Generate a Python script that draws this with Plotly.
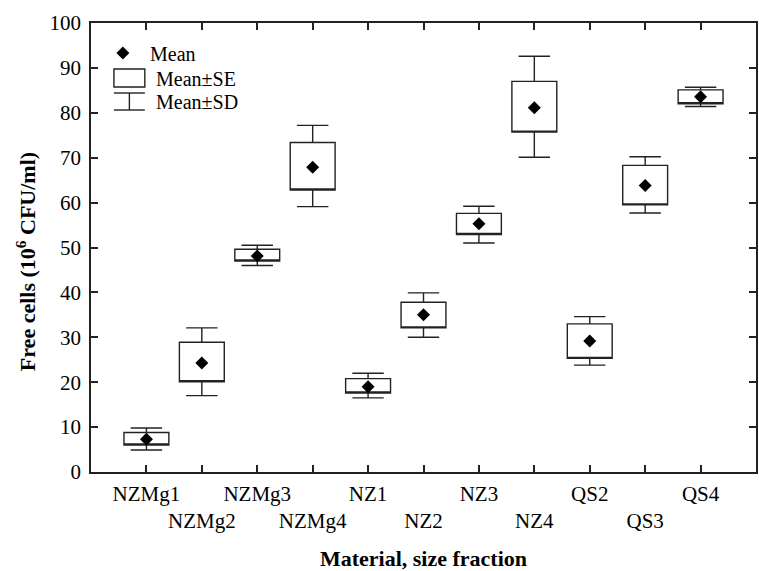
import plotly.graph_objects as go

categories = ["NZMg1", "NZMg2", "NZMg3", "NZMg4", "NZ1", "NZ2", "NZ3", "NZ4", "QS2", "QS3", "QS4"]
means   = [7.3, 24.3, 48.1, 67.9, 19.0, 35.0, 55.3, 81.1, 29.2, 63.8, 83.6]
se_hi   = [8.8, 28.9, 49.6, 73.4, 20.8, 37.8, 57.6, 87.0, 33.0, 68.3, 85.1]
se_lo   = [6.0, 20.1, 47.0, 62.8, 17.6, 32.1, 52.9, 75.7, 25.3, 59.5, 82.0]
sd_hi   = [9.8, 32.1, 50.5, 77.2, 22.0, 39.9, 59.2, 92.6, 34.6, 70.2, 85.7]
sd_lo   = [4.9, 17.0, 46.0, 59.1, 16.5, 30.0, 51.0, 70.1, 23.8, 57.7, 81.4]
y_ticks = [0, 10, 20, 30, 40, 50, 60, 70, 80, 90, 100]

positions = list(range(1, len(categories) + 1))
ticktext = [c if i % 2 == 0 else "<br>" + c for i, c in enumerate(categories)]

FONT = "Liberation Serif"
LC = "#222222"
fig = go.Figure()

fig.add_trace(go.Box(
    x=positions, q1=se_lo, q3=se_hi, median=se_lo,
    lowerfence=sd_lo, upperfence=sd_hi,
    width=0.81, whiskerwidth=0.7,
    fillcolor="white", line=dict(color=LC, width=1.4),
    boxpoints=False, hoverinfo="skip", showlegend=False,
))
fig.add_trace(go.Scatter(
    x=positions, y=means, mode="markers",
    marker=dict(symbol="diamond", size=10, color="black"),
    showlegend=False, hoverinfo="skip",
))

# custom legend (plot area in pixels: x 91..758, y 23..472)
def px(x): return (x - 91) / 667
def py(y): return (472 - y) / 449

fig.add_trace(go.Scatter(x=[px(123)], y=[py(53)], xaxis="x2", yaxis="y2", mode="markers",
                         marker=dict(symbol="diamond", size=10, color="black"),
                         showlegend=False, hoverinfo="skip"))
shapes = [
    dict(type="rect", xref="paper", yref="paper", x0=px(114), x1=px(145), y0=py(87), y1=py(69),
         line=dict(color=LC, width=1.4), fillcolor="white"),
    dict(type="line", xref="paper", yref="paper", x0=px(114), x1=px(145), y0=py(93), y1=py(93),
         line=dict(color=LC, width=1.4)),
    dict(type="line", xref="paper", yref="paper", x0=px(129.5), x1=px(129.5), y0=py(93), y1=py(110),
         line=dict(color=LC, width=1.4)),
    dict(type="line", xref="paper", yref="paper", x0=px(114), x1=px(145), y0=py(110), y1=py(110),
         line=dict(color=LC, width=1.4)),
]
annotations = [
    dict(text="Mean", x=px(148), y=py(54), xref="paper", yref="paper", xanchor="left", yanchor="middle",
         showarrow=False, font=dict(family=FONT, size=20, color="black")),
    dict(text="Mean±SE", x=px(154), y=py(79), xref="paper", yref="paper", xanchor="left", yanchor="middle",
         showarrow=False, font=dict(family=FONT, size=20, color="black")),
    dict(text="Mean±SD", x=px(154), y=py(102), xref="paper", yref="paper", xanchor="left", yanchor="middle",
         showarrow=False, font=dict(family=FONT, size=20, color="black")),
    dict(text="<b>Free cells (10<sup>6</sup> CFU/ml)</b>", x=px(26), y=py(262), xref="paper", yref="paper",
         xanchor="center", yanchor="middle", textangle=-90, showarrow=False,
         font=dict(family=FONT, size=22, color="black")),
]

axis_common = dict(showline=True, linecolor=LC, linewidth=1.6, mirror="ticks",
                   ticks="inside", ticklen=7, tickwidth=1.6, tickcolor=LC,
                   showgrid=False, zeroline=False,
                   tickfont=dict(family=FONT, size=21, color="black"))

fig.update_layout(
    width=759, height=571,
    margin=dict(l=91, r=1, t=23, b=99),
    plot_bgcolor="white", paper_bgcolor="white",
    shapes=shapes, annotations=annotations,
    xaxis=dict(range=[0, 12], tickmode="array", tickvals=positions, ticktext=ticktext,
               tickangle=0, ticklabelstandoff=2,
               title=dict(text="<b>Material, size fraction</b>", standoff=18,
                          font=dict(family=FONT, size=22, color="black")),
               **axis_common),
    yaxis=dict(range=[0, 100], tickmode="array", tickvals=y_ticks, ticklabelstandoff=4,
               **axis_common),
    xaxis2=dict(range=[0, 1], overlaying="x", visible=False),
    yaxis2=dict(range=[0, 1], overlaying="y", visible=False),
)

fig.write_html("out.html")
